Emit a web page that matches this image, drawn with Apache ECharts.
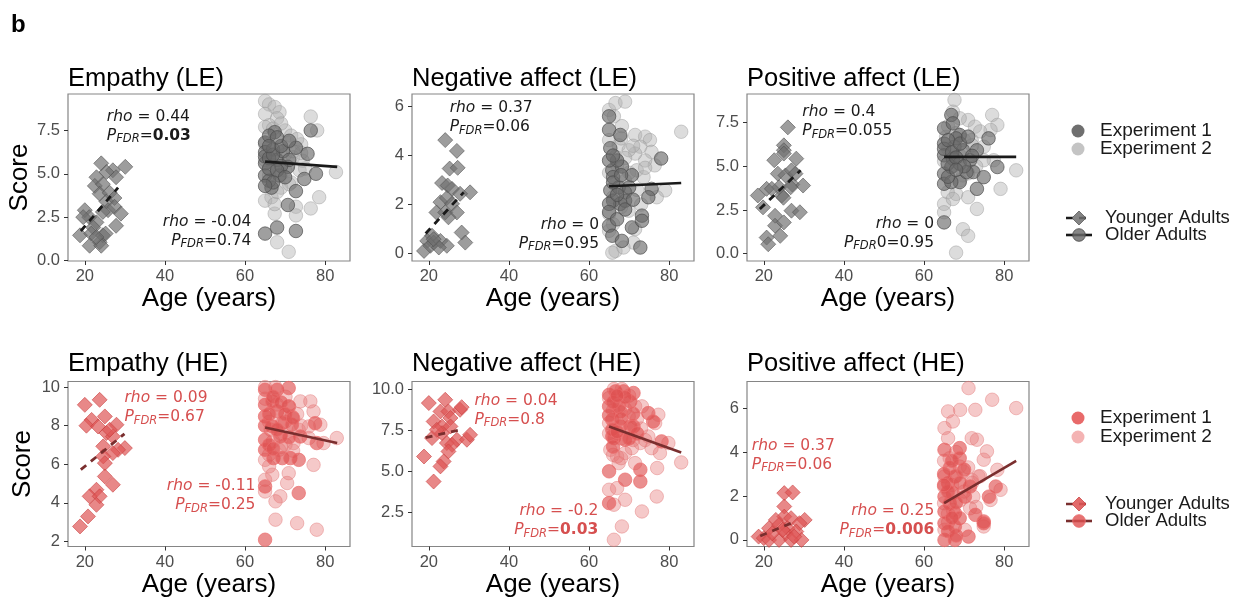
<!DOCTYPE html>
<html>
<head>
<meta charset="utf-8">
<script src="https://cdn.jsdelivr.net/npm/echarts@6/dist/echarts.min.js"></script>
<style>html,body{margin:0;padding:0;background:#fff;}#chart{width:1239px;height:607px;}</style>
</head>
<body>
<div id="chart"></div>
<script>
// ---------------- DATA ----------------
const panelTitles = ['Empathy (LE)', 'Negative affect (LE)', 'Positive affect (LE)', 'Empathy (HE)', 'Negative affect (HE)', 'Positive affect (HE)'];
const xTicks = [20, 40, 60, 80];
const xTickLabels = ['20', '40', '60', '80'];

const yTicksEmpLE = [0, 2.5, 5, 7.5];   const yLabelsEmpLE = ['0.0', '2.5', '5.0', '7.5'];
const yTicksNegLE = [0, 2, 4, 6];       const yLabelsNegLE = ['0', '2', '4', '6'];
const yTicksPosLE = [0, 2.5, 5, 7.5];   const yLabelsPosLE = ['0.0', '2.5', '5.0', '7.5'];
const yTicksEmpHE = [2, 4, 6, 8, 10];   const yLabelsEmpHE = ['2', '4', '6', '8', '10'];
const yTicksNegHE = [2.5, 5, 7.5, 10];  const yLabelsNegHE = ['2.5', '5.0', '7.5', '10.0'];
const yTicksPosHE = [0, 2, 4, 6];       const yLabelsPosHE = ['0', '2', '4', '6'];

// Younger adults (diamonds)
const youngEmpLE = [[24.1,5.6],[27,5.2],[30.1,5.4],[27.8,4.8],[25.4,5.1],[22.9,4.8],[22.5,4.3],[24.5,4.4],[23.7,3.85],[26.2,3.9],[25.4,3.4],[27.4,3.6],[25.8,2.9],[24.5,2.8],[27.4,3.1],[29,2.7],[20,2.9],[21.1,2.5],[22.9,2.2],[19.6,2.5],[22.1,1.9],[27.8,2.0],[18.8,1.45],[21.6,1.55],[24.5,1.45],[25.2,1.55],[23.7,1.05],[21.2,0.85],[24.1,0.85],[22.9,1.35]];
const youngNegLE = [[24.1,4.63],[27,4.19],[25.2,3.47],[27.2,3.5],[23.3,2.88],[24.7,2.78],[25.8,2.64],[30.3,2.5],[27.8,2.44],[22.9,2.1],[24.5,2.27],[25.8,2.03],[21.9,1.68],[24.1,1.68],[27,1.68],[24.9,1.48],[28.2,0.86],[29.1,0.45],[20.8,0.73],[19.6,0.52],[21.2,0.45],[22.9,0.52],[24.5,0.32],[18.8,0.11],[20.4,0.32],[22.5,0.25],[21.2,0.59]];
const youngPosLE = [[26,7.23],[25,6.2],[25,5.92],[22.6,5.35],[28.1,5.44],[25,5.73],[23.5,4.58],[25.4,4.48],[26.9,4.77],[27.9,4.58],[23.8,3.8],[27.1,3.96],[29.8,3.9],[18.5,3.33],[20.7,3.71],[22,3.71],[24.5,3.33],[26.7,3.8],[19.8,2.65],[22.8,2.17],[26.9,2.46],[29,2.37],[22.8,1.6],[25,1.79],[20.7,0.92],[24.1,1.02],[21.1,0.54],[24.9,3.2]];
const youngEmpHE = [[23.7,9.34],[20,9.08],[21.7,8.3],[20.4,8.0],[25,8.48],[23.3,7.96],[25.4,7.62],[27.9,8.05],[27,7.44],[30,6.84],[28.3,6.75],[27,6.58],[24.6,6.93],[24.6,6.41],[25,6.06],[25,5.37],[27,4.94],[22.9,4.68],[21.2,4.34],[23.7,4.34],[22.9,3.9],[20.8,3.3],[18.8,2.78],[26.2,7.79]];
const youngNegHE = [[20,9.15],[24.1,9.35],[22.9,8.64],[24.9,8.64],[25.4,8.24],[27.8,8.74],[28.2,8.9],[21.2,8.03],[23.3,7.73],[25.4,7.73],[20.8,7.02],[23.3,7.32],[27,6.92],[29.5,6.92],[30.3,7.22],[24.5,6.72],[25.8,6.61],[24.9,6.21],[23.7,5.6],[22.9,5.3],[18.8,5.9],[21.2,4.38],[22,7.52]];
const youngPosHE = [[25.1,2.13],[27.2,2.16],[25.1,1.52],[25.1,1.06],[23,0.91],[26.8,0.99],[30.2,0.91],[28.9,0.76],[21.3,0.53],[23.8,0.68],[25.9,0.53],[18.7,0.15],[20,0.08],[21.3,0],[23.8,0],[25.5,0.3],[28.1,0.38],[29.4,0],[26.8,0],[22.1,0.3],[24.7,0.46],[27.6,0.15]];

// Older adults, Experiment 1
const exp1EmpLE = [[65,6.8],[65,6.25],[65,5.6],[65,4.9],[65,1.55],[66.6,4.2],[67.4,7.4],[67,6.4],[68,5.8],[68.6,4.9],[68,1.9],[69.5,6.3],[70.7,5.4],[71,5.8],[72.7,6.5],[72.7,4.0],[72.7,1.7],[70.7,3.2],[74.8,4.7],[75.6,6.15],[76.4,7.5],[77.7,5.0],[66,4.6],[69,5.45],[66,7.2],[65,6.0],[66,5.9],[67,6.1],[66,5.3],[68,5.2],[69,6.6],[67,4.5],[65,4.3],[70,4.8],[71,6.9],[68,7.1],[66,6.6]];
const exp1NegLE = [[65,5.6],[65,5.05],[67.8,4.84],[65.3,4.3],[65.8,3.4],[68.2,3.55],[66,3.12],[65.3,2.58],[69,2.5],[70.7,3.2],[66,2.16],[67.8,2.03],[65,2.03],[65,1.14],[65.8,0.73],[68.2,0.52],[70.7,1.07],[73.2,1.55],[73.2,1.34],[72.8,0.25],[78,3.88],[75.6,2.64],[74.8,2.3],[69,2.16],[67.4,2.7],[67,3.8],[65,3.8],[66,2.9],[67,2.4],[68,3.2],[69,1.8],[70,2.7],[66,4.0],[71,2.2],[65,1.7],[67,1.4]];
const exp1PosLE = [[65,7.17],[65,6.3],[65,5.63],[65,4.58],[65,4.0],[65,1.79],[66.8,7.94],[67.2,7.46],[68.9,6.79],[67.6,6.12],[69.7,5.92],[67.2,5.44],[66.8,4.96],[68.9,5.15],[71.5,5.35],[72.3,4.67],[73.2,5.92],[76.1,6.6],[78.3,4.96],[74.9,4.38],[73.2,3.71],[68.9,4.1],[66.8,4.1],[70.6,4.67],[65.9,5.15],[68,6.6],[65,6.0],[66,6.5],[67,5.8],[68,5.5],[69,6.3],[70,5.0],[66,4.4],[71,6.7],[68,4.8],[72,5.6]];
const exp1EmpHE = [[65,9.86],[68,9.86],[70.9,9.95],[65,9.08],[68,8.74],[65,8.48],[66.8,7.96],[69.3,8.13],[71.7,8.05],[65,7.27],[68.8,7.44],[65,6.75],[67.1,6.32],[69.3,6.32],[71.3,6.32],[73.4,6.23],[73.4,4.51],[65,4.85],[65,2.09],[77.5,8.13],[77.9,7.1],[73.8,7.44],[70.9,9.0],[66.8,9.26],[65,8.0],[66,8.6],[67,9.5],[68,7.8],[69,9.2],[70,8.6],[66,7.0],[71,7.4],[67,6.8],[72,8.4]];
const exp1NegHE = [[65,9.65],[66.6,9.86],[68.6,9.86],[71.1,9.76],[65,8.95],[67.4,8.95],[70.3,9.25],[65.8,8.13],[67.8,8.64],[65.8,7.12],[67.8,7.73],[70.3,7.73],[71.1,7.73],[74.8,8.54],[76,8.03],[78.1,6.82],[66.2,7.02],[69,6.92],[65,5.0],[72.8,5.1],[72.8,4.38],[69,4.49],[65,3.07],[65.8,7.53],[65,8.4],[66,9.2],[67,7.4],[68,8.2],[69,9.5],[70,7.0],[66,6.5],[71,8.5],[67,9.6],[72,7.3]];
const exp1PosHE = [[65.1,4.1],[68.9,4.18],[68.9,3.72],[66.4,3.27],[67.7,2.89],[66,2.58],[67.2,2.13],[65.1,1.97],[66.4,1.67],[65.1,1.29],[67.7,1.22],[68.9,0.99],[65.1,0.76],[67.7,0.61],[65.1,0],[67.7,0],[71.1,0.15],[72.8,1.14],[74.9,0.84],[74.9,0.76],[76.2,1.97],[77.9,2.43],[71.5,2.43],[70.2,1.97],[65,3.0],[66,2.2],[67,3.6],[68,1.7],[69,2.6],[66,0.4],[67,1.0],[68,0.2],[65,2.5],[70,3.2]];

// Older adults, Experiment 2
const exp2EmpLE = [[65,9.2],[66,9.0],[67.4,8.85],[68.6,8.55],[68,8.2],[65,8.45],[66,7.8],[70,7.5],[70.7,6.8],[71.5,7.2],[74,6.7],[76.4,8.3],[78,7.5],[82.7,5.1],[78.5,3.65],[76.4,3.0],[72.7,3.1],[72.7,2.6],[71.5,4.5],[73.6,5.2],[66.6,3.65],[67.4,2.7],[68,1.05],[70.9,0.5],[65,3.45],[67.4,3.25],[65,7.7],[69,4.2],[70,6.1],[72,5.95],[74.4,5.75],[65,6.7],[66.6,6.0],[75,5.3],[66,5.25],[68,3.95],[65,5.8],[67,5.5],[69,5.0],[70,5.2],[72,6.3],[73,7.0],[68,6.4],[66,4.9],[71,4.4],[74,6.2],[67,7.6],[69,7.9]];
const exp2NegLE = [[65,5.86],[66.6,6.14],[69,6.2],[66.2,5.6],[68.2,5.2],[71.5,4.84],[74,4.77],[75.2,4.63],[83,4.97],[72.8,4.36],[75.6,4.15],[76.4,3.6],[74,3.8],[71.5,4.08],[71.9,3.4],[79,2.58],[76.9,2.3],[65,1.62],[65,0.93],[69.9,1.75],[71.5,1.0],[71.1,0.45],[66.6,0.11],[65.8,0.04],[68.6,0.25],[67.4,4.42],[69.9,4.22],[65,4.63],[66.6,3.95],[73.6,3.12],[69,2.98],[65,3.3],[66,2.3],[67,3.6],[68,1.9],[69,3.9],[70,3.3],[72,2.6],[71,4.4],[73,2.0],[66,1.2],[68,4.7],[74,3.5]];
const exp2PosLE = [[67.6,8.8],[67.2,8.13],[71,7.65],[77,7.94],[78.3,7.37],[76.6,7.08],[72.7,7.27],[68.9,7.75],[74.9,6.12],[77.4,5.35],[83,4.77],[79.1,3.71],[73.2,2.56],[71,3.23],[68,3.42],[65,2.85],[65,2.37],[69.7,1.4],[71,1.02],[68,0.06],[65.9,3.52],[74.9,5.35],[65.5,6.69],[71.9,6.5],[69.7,4.48],[67.2,3.13],[65,5.3],[66,6.0],[67,5.0],[68,6.9],[69,5.6],[70,6.5],[71,4.6],[72,6.2],[73,5.0],[74,7.0],[66,7.3],[69,4.2]];
const exp2EmpHE = [[65,10],[67.6,10],[70.1,9.5],[73.8,9.26],[76.3,9.26],[77.1,8.74],[78.8,8.05],[82.9,7.36],[79.6,7.1],[75.9,7.36],[72.1,7.1],[70.1,7.01],[68.5,6.75],[66,5.89],[66.8,5.46],[70.9,5.54],[70.5,5.03],[77.1,5.97],[65,4.59],[68.8,4.34],[67.6,4.08],[67.6,3.13],[73,2.95],[77.9,2.61],[65,5.2],[65,6.23],[66.4,7.79],[71.7,8.48],[73.4,7.79],[75.9,7.96],[65,9.4],[66,8.2],[67,7.2],[68,9.1],[69,7.6],[70,8.2],[71,9.0],[72,6.7],[73,8.6],[74,8.0],[66,6.5],[69,6.9]];
const exp2NegHE = [[66.2,10],[65,9.45],[68.2,10],[71.5,8.95],[73.2,8.95],[77.3,8.44],[76.5,7.93],[74.8,7.12],[72.8,6.72],[70.7,6.41],[75.6,6.41],[79.8,6.72],[77.7,6.11],[83,5.54],[71.5,5.5],[77,5.2],[67.4,5.5],[65,3.88],[67,3.98],[66.2,2.97],[69,3.27],[73.2,2.56],[76.9,3.47],[68.2,1.65],[66.2,0.84],[65.3,6.31],[69,6.11],[69.9,8.34],[65,7.93],[67,5.9],[65,7.3],[66,8.7],[67,9.3],[68,7.0],[69,8.8],[70,9.6],[71,6.9],[72,8.2],[73,7.6],[74,6.9],[66,6.0],[68,5.8]];
const exp2PosHE = [[71.1,6.91],[77,6.38],[83,6.0],[66,5.85],[69,5.92],[72.8,5.92],[67.2,5.39],[65.1,5.09],[66,4.63],[71.9,4.63],[73.2,4.56],[75.7,4.03],[74.9,3.65],[78.3,3.19],[79.1,2.28],[76.6,1.82],[71.9,2.73],[69.8,3.11],[65.1,2.89],[65,2.43],[65,1.67],[67.2,1.37],[71.5,1.44],[72.3,1.97],[65.1,0.46],[70.2,0.46],[74.9,0.61],[68.9,3.34],[66.4,3.72],[73.6,2.89],[65,3.6],[66,1.2],[67,2.5],[68,4.0],[69,1.8],[70,2.2],[71,3.3],[72,2.6],[66,0.8],[68,2.9],[73,1.5],[74,2.9]];

// Fitted lines (endpoints)
const fitYoungEmpLE = [[19,1.7],[28.3,4.2]];   const fitOldEmpLE = [[65,5.7],[83,5.4]];
const fitYoungNegLE = [[19.2,0.82],[28.7,2.5]]; const fitOldNegLE = [[65,2.75],[83,2.88]];
const fitYoungPosLE = [[19,2.56],[29.2,4.77]];  const fitOldPosLE = [[65,5.54],[83,5.54]];
const fitYoungEmpHE = [[19,5.72],[29.9,7.58]];  const fitOldEmpHE = [[65,7.91],[83,7.1]];
const fitYoungNegHE = [[19.2,7.05],[27.4,7.5]]; const fitOldNegHE = [[65,7.73],[83,6.15]];
const fitYoungPosHE = [[19.1,0.18],[27.2,0.79]];const fitOldPosHE = [[65,1.67],[83,3.6]];

// Statistics text: [young, old]
const rhoValues = [['0.44','-0.04'],['0.37','0'],['0.4','0'],['0.09','-0.11'],['0.04','-0.2'],['0.37','0.25']];
const pValues   = [['0.03','0.74'],['0.06','0.95'],['0.055','0.95'],['0.67','0.25'],['0.8','0.03'],['0.06','0.006']];
const pBold     = [[true,false],[false,false],[false,false],[false,false],[false,true],[false,true]];
const pPrefix   = [['',''],['',''],['','0'],['',''],['',''],['','']];

// ---------------- LAYOUT / STYLE ----------------
const colLeft = [68, 412, 747];
const rowTop = [94, 381.5];
const panelW = 282, rowH = [167, 165];
const xRange = [15.8, 86.2];
const panels = [
  {young: youngEmpLE, e1: exp1EmpLE, e2: exp2EmpLE, fy: fitYoungEmpLE, fo: fitOldEmpLE, ymin: -0.03, ymax: 9.6,  yt: yTicksEmpLE, yl: yLabelsEmpLE, annY: [25.5, 7.75], annO: [61.6, 1.68]},
  {young: youngNegLE, e1: exp1NegLE, e2: exp2NegLE, fy: fitYoungNegLE, fo: fitOldNegLE, ymin: -0.3,  ymax: 6.51, yt: yTicksNegLE, yl: yLabelsNegLE, annY: [25.2, 5.55], annO: [62.5, 0.8]},
  {young: youngPosLE, e1: exp1PosLE, e2: exp2PosLE, fy: fitYoungPosLE, fo: fitOldPosLE, ymin: -0.42, ymax: 9.14, yt: yTicksPosLE, yl: yLabelsPosLE, annY: [29.6, 7.55], annO: [62.5, 1.18]},
  {young: youngEmpHE, e1: exp1EmpHE, e2: exp2EmpHE, fy: fitYoungEmpHE, fo: fitOldEmpHE, ymin: 1.74,  ymax: 10.29,yt: yTicksEmpHE, yl: yLabelsEmpHE, annY: [29.9, 8.94], annO: [62.6, 4.36]},
  {young: youngNegHE, e1: exp1NegHE, e2: exp2NegHE, fy: fitYoungNegHE, fo: fitOldNegHE, ymin: 0.43,  ymax: 10.46,yt: yTicksNegHE, yl: yLabelsNegHE, annY: [31.4, 8.7],  annO: [62.3, 2.0]},
  {young: youngPosHE, e1: exp1PosHE, e2: exp2PosHE, fy: fitYoungPosHE, fo: fitOldPosHE, ymin: -0.3,  ymax: 7.21, yt: yTicksPosHE, yl: yLabelsPosHE, annY: [17.0, 3.85], annO: [62.55, 0.87]}
];
const palette = [
  { young: 'rgba(112,112,112,0.85)', youngB: 'rgba(80,80,80,0.9)', e1: 'rgba(105,105,105,0.8)', e1B: 'rgba(75,75,75,0.85)', e2: 'rgba(175,175,175,0.55)', e2B: 'rgba(150,150,150,0.55)', line: '#1a1a1a', text: '#1a1a1a', leg1: '#6f6f6f', leg2: '#c4c4c4' },
  { young: 'rgba(222,86,86,0.88)', youngB: 'rgba(200,60,60,0.9)', e1: 'rgba(222,80,80,0.8)', e1B: 'rgba(235,110,110,0.9)', e2: 'rgba(230,120,120,0.5)', e2B: 'rgba(225,115,115,0.55)', line: '#7a2e2e', text: '#d64f4f', leg1: '#e86a6a', leg2: '#f4b3b3' }
];
const SANS = '"Liberation Sans", Arial, sans-serif';
const DV = '"DejaVu Sans", sans-serif';

const grids = [], xAxes = [], yAxes = [], series = [];
panels.forEach((p, i) => {
  const row = Math.floor(i / 3), col = i % 3;
  const pal = palette[row];
  grids.push({ left: colLeft[col], top: rowTop[row], width: panelW, height: rowH[row], show: true, borderColor: '#858585', borderWidth: 1.2, backgroundColor: '#fff' });
  xAxes.push({
    type: 'value', gridIndex: i, min: xRange[0], max: xRange[1],
    name: 'Age (years)', nameLocation: 'middle', nameGap: 24,
    nameTextStyle: { fontSize: 26, color: '#000', fontFamily: SANS },
    axisLine: { show: false, onZero: false }, splitLine: { show: false },
    axisTick: { show: true, length: 4, lineStyle: { color: '#333', width: 1 }, customValues: xTicks },
    axisLabel: { customValues: xTicks, fontSize: 16.5, color: '#4d4d4d', fontFamily: SANS, margin: 7,
      formatter: v => xTickLabels[xTicks.indexOf(v)] }
  });
  yAxes.push({
    type: 'value', gridIndex: i, min: p.ymin, max: p.ymax,
    name: col === 0 ? 'Score' : '', nameLocation: 'middle', nameGap: 32, nameRotate: 90,
    nameTextStyle: { fontSize: 26, color: '#000', fontFamily: SANS },
    axisLine: { show: false, onZero: false }, splitLine: { show: false },
    axisTick: { show: true, length: 4, lineStyle: { color: '#333', width: 1 }, customValues: p.yt },
    axisLabel: { customValues: p.yt, fontSize: 16.5, color: '#4d4d4d', fontFamily: SANS, margin: 8,
      formatter: v => { const k = p.yt.findIndex(t => Math.abs(t - v) < 1e-9); return k >= 0 ? p.yl[k] : ''; } }
  });
  series.push({ type: 'scatter', name: 'Experiment 2', xAxisIndex: i, yAxisIndex: i, data: p.e2, symbol: 'circle', symbolSize: 13.5,
    itemStyle: { color: pal.e2, borderColor: pal.e2B, borderWidth: 1 }, z: 2 });
  series.push({ type: 'scatter', name: 'Experiment 1', xAxisIndex: i, yAxisIndex: i, data: p.e1, symbol: 'circle', symbolSize: 13.5,
    itemStyle: { color: pal.e1, borderColor: pal.e1B, borderWidth: 1 }, z: 3 });
  series.push({ type: 'scatter', name: 'Younger Adults', xAxisIndex: i, yAxisIndex: i, data: p.young, symbol: 'diamond', symbolSize: 15,
    itemStyle: { color: pal.young, borderColor: pal.youngB, borderWidth: 0.8 }, z: 3 });
  series.push({ type: 'line', name: 'Younger Adults fit', xAxisIndex: i, yAxisIndex: i, data: p.fy, symbol: 'none',
    lineStyle: { color: pal.line, width: 2.8, type: [7, 6] }, z: 5, silent: true });
  series.push({ type: 'line', name: 'Older Adults fit', xAxisIndex: i, yAxisIndex: i, data: p.fo, symbol: 'none',
    lineStyle: { color: pal.line, width: 2.6 }, z: 5, silent: true });
});

const chart = echarts.init(document.getElementById('chart'), null, { renderer: 'canvas' });
chart.setOption({ animation: false, backgroundColor: '#fff', grid: grids, xAxis: xAxes, yAxis: yAxes, series: series });

// ---------------- TEXT & LEGENDS ----------------
function richFor(color) {
  return {
    i: { fontStyle: 'italic', fontSize: 15.5, fontFamily: DV, fill: color, lineHeight: 19 },
    n: { fontSize: 15.5, fontFamily: DV, fill: color, lineHeight: 19 },
    b: { fontSize: 15.5, fontFamily: DV, fontWeight: 'bold', fill: color, lineHeight: 19 },
    s: { fontStyle: 'italic', fontSize: 11.5, fontFamily: DV, fill: color, lineHeight: 10, verticalAlign: 'bottom' }
  };
}
function annText(rho, p, bold, prefix) {
  return '{i|rho}{n| = ' + rho + '}\n{i|P}{s|FDR}{n|' + prefix + '=}' + (bold ? '{b|' + p + '}' : '{n|' + p + '}');
}
const graphics = [];
graphics.push({ type: 'text', x: 11, y: 25, style: { text: 'b', font: 'bold 24px ' + SANS, fill: '#000', verticalAlign: 'middle' } });
panels.forEach((p, i) => {
  const row = Math.floor(i / 3), col = i % 3;
  const pal = palette[row];
  graphics.push({ type: 'text', x: colLeft[col], y: row === 0 ? 79 : 364, style: { text: panelTitles[i], font: '25.5px ' + SANS, fill: '#000', verticalAlign: 'middle' } });
  const a = chart.convertToPixel({ gridIndex: i }, p.annY);
  const b = chart.convertToPixel({ gridIndex: i }, p.annO);
  graphics.push({ type: 'text', x: a[0], y: a[1], z: 100, style: { text: annText(rhoValues[i][0], pValues[i][0], pBold[i][0], pPrefix[i][0]), rich: richFor(pal.text), fontSize: 15.5, fontFamily: DV, align: 'left', verticalAlign: 'middle' } });
  graphics.push({ type: 'text', x: b[0], y: b[1], z: 100, style: { text: annText(rhoValues[i][1], pValues[i][1], pBold[i][1], pPrefix[i][1]), rich: richFor(pal.text), fontSize: 15.5, fontFamily: DV, align: 'right', verticalAlign: 'middle' } });
});
const legendY = [[131, 149, 218, 235], [418, 437, 504, 521]];
[0, 1].forEach(row => {
  const pal = palette[row], ly = legendY[row];
  graphics.push({ type: 'circle', shape: { cx: 1078, cy: ly[0], r: 6.5 }, style: { fill: pal.leg1 } });
  graphics.push({ type: 'circle', shape: { cx: 1078, cy: ly[1], r: 6.5 }, style: { fill: pal.leg2 } });
  graphics.push({ type: 'text', x: 1100, y: ly[0], style: { text: 'Experiment 1', font: '19px ' + SANS, fill: '#1a1a1a', verticalAlign: 'middle' } });
  graphics.push({ type: 'text', x: 1100, y: ly[1], style: { text: 'Experiment 2', font: '19px ' + SANS, fill: '#1a1a1a', verticalAlign: 'middle' } });
  // Younger adults key
  graphics.push({ type: 'line', shape: { x1: 1066, y1: ly[2], x2: 1092, y2: ly[2] }, style: { stroke: pal.line, lineWidth: 2.6, lineDash: [7, 6] } });
  graphics.push({ type: 'polygon', shape: { points: [[1079, ly[2] - 7], [1086, ly[2]], [1079, ly[2] + 7], [1072, ly[2]]] }, style: { fill: pal.young, stroke: pal.youngB, lineWidth: 0.8 } });
  graphics.push({ type: 'text', x: 1105, y: ly[2], style: { text: 'Younger Adults', font: '18.5px ' + SANS, fill: '#1a1a1a', verticalAlign: 'middle' } });
  // Older adults key
  graphics.push({ type: 'line', shape: { x1: 1066, y1: ly[3], x2: 1092, y2: ly[3] }, style: { stroke: pal.line, lineWidth: 2.6 } });
  graphics.push({ type: 'circle', shape: { cx: 1079, cy: ly[3], r: 6.3 }, style: { fill: pal.e1, stroke: pal.e1B, lineWidth: 1 } });
  graphics.push({ type: 'text', x: 1105, y: ly[3], style: { text: 'Older Adults', font: '18.5px ' + SANS, fill: '#1a1a1a', verticalAlign: 'middle' } });
});
chart.setOption({ graphic: graphics });
</script>
</body>
</html>
